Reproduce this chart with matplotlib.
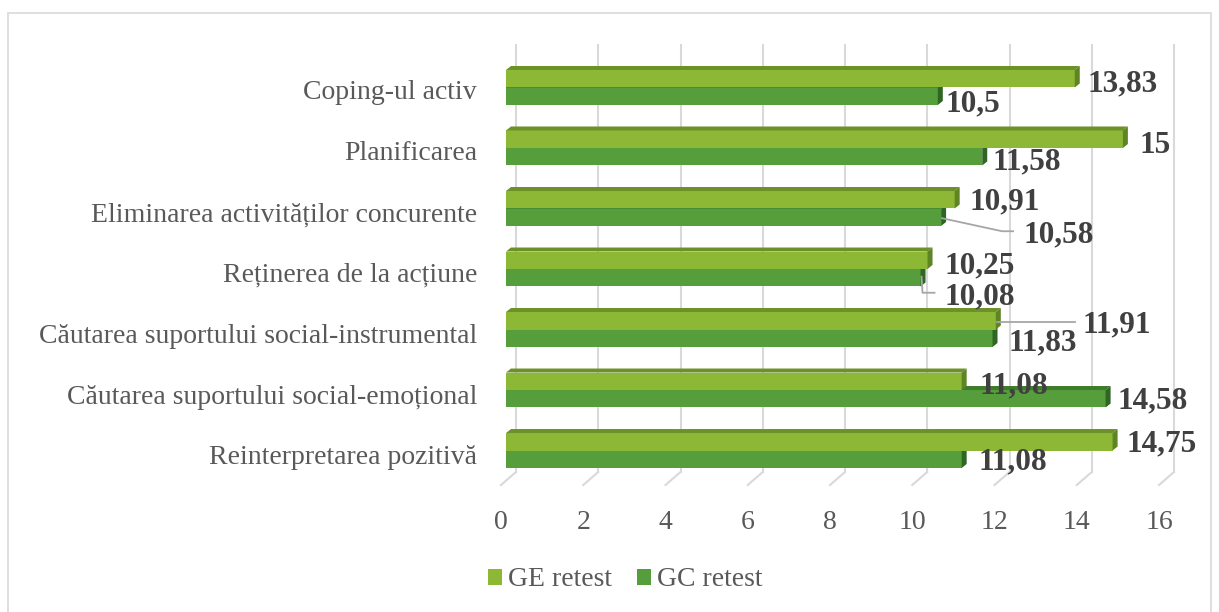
import matplotlib
matplotlib.use("Agg")
import matplotlib.pyplot as plt
from matplotlib.patches import Polygon, Patch, Rectangle
from matplotlib.lines import Line2D
from matplotlib.transforms import IdentityTransform

# ---- data -------------------------------------------------------------
categories = [
    "Coping-ul activ",
    "Planificarea",
    "Eliminarea activităților concurente",
    "Reținerea de la acțiune",
    "Căutarea suportului social-instrumental",
    "Căutarea suportului social-emoțional",
    "Reinterpretarea pozitivă",
]
ge_retest = [13.83, 15, 10.91, 10.25, 11.91, 11.08, 14.75]
gc_retest = [10.5, 11.58, 10.58, 10.08, 11.83, 14.58, 11.08]
series_names = ["GE retest", "GC retest"]
x_ticks = [0, 2, 4, 6, 8, 10, 12, 14, 16]

# ---- styling ----------------------------------------------------------
W, H, DPI = 1219, 612, 100
FONT = "Liberation Serif"
GE_FACE, GE_TOP, GE_SIDE = "#8CB835", "#6C9128", "#5F8423"
GC_FACE, GC_TOP, GC_SIDE = "#559E3B", "#3E7B2B", "#2F6624"
GRID = "#D9D9D9"
TEXT = "#595959"
VALUE_TEXT = "#404040"
BAR_H = 0.289
DEPTH = (5, 4)          # bar extrusion in pixels (right, up)
WALL_SHIFT = 10         # back-wall gridlines sit behind the bars
FLOOR = (15, 13)        # floor gridline run toward the viewer

# label placement: (right of bar end, below bar centre) in pixels
ge_label_pos = [(13, 2), (17, 3), (15, -1), (17, 3), (87, 1), (18, 2), (14, -1)]
gc_label_pos = [(8, 5), (10, 2), (82, 15), (24, 16), (16, 2), (12, -1), (17, 0)]
# leader lines for labels pulled away from their bars
leaders = {
    ("gc", 2): [(1, 1), (61, 14), (72, 14)],
    ("gc", 3): [(1, -1), (2, 15), (14, 15)],
    ("ge", 4): [(1, 1), (79, 1)],
}

fig = plt.figure(figsize=(W / DPI, H / DPI), dpi=DPI)
fig.patch.set_facecolor("white")

ax_left, ax_right = 506, 1164
ax_top, ax_bot = 45, 472
ax = fig.add_axes([ax_left / W, (H - ax_bot) / H,
                   (ax_right - ax_left) / W, (ax_bot - ax_top) / H])
XLIM = (0, 16)
YLIM = (6.355, -0.702)
ax.set_xlim(*XLIM)
ax.set_ylim(*YLIM)
ax.axis("off")

ident = IdentityTransform()

# back wall gridlines and floor lines
_, y_wall_bot = ax.transAxes.transform((0, 0))
_, y_wall_top = ax.transAxes.transform((0, 1))
for v in x_ticks:
    xd, _ = ax.transData.transform((v, 0))
    xb = xd + WALL_SHIFT
    ax.add_line(Line2D([xb, xb], [y_wall_bot, y_wall_top], color=GRID, lw=1.5,
                       transform=ident, clip_on=False, zorder=0.5))
    ax.add_line(Line2D([xb, xb - FLOOR[0]], [y_wall_bot, y_wall_bot - FLOOR[1]],
                       color=GRID, lw=1.5, transform=ident, clip_on=False, zorder=0.5))
    ax.annotate(str(v), xy=(v, 0), xycoords=("data", "axes fraction"),
                xytext=(WALL_SHIFT - FLOOR[0], -57), textcoords="offset pixels",
                ha="center", va="baseline", fontsize=20, family=FONT, color=TEXT)


def bar3d(val, yc, face, top, side, z):
    ax.barh(yc, val, height=BAR_H, color=face, linewidth=0, zorder=z)
    x0, yt = ax.transData.transform((0, yc - BAR_H / 2))
    x1, yb = ax.transData.transform((val, yc + BAR_H / 2))
    dx, dy = DEPTH
    ax.add_patch(Polygon([(x0, yt), (x1, yt), (x1 + dx, yt + dy), (x0 + dx, yt + dy)],
                         closed=True, fc=top, ec="none", transform=ident,
                         clip_on=False, zorder=z + 0.1))
    ax.add_patch(Polygon([(x1, yt), (x1 + dx, yt + dy), (x1 + dx, yb + dy), (x1, yb)],
                         closed=True, fc=side, ec="none", transform=ident,
                         clip_on=False, zorder=z + 0.1))


def fmt(v):
    return f"{v:g}".replace(".", ",")


def value_label(key, i, val, yc, pos):
    dx, dd = pos
    ax.annotate(fmt(val), xy=(val, yc), xycoords="data",
                xytext=(dx, -(dd + 10.5)), textcoords="offset pixels",
                ha="left", va="baseline", fontsize=22.5, fontweight="bold",
                family=FONT, color=VALUE_TEXT, zorder=10)
    if (key, i) in leaders:
        bx, by = ax.transData.transform((val, yc))
        pts = leaders[(key, i)]
        ax.add_line(Line2D([bx + p[0] for p in pts], [by - p[1] for p in pts],
                           color="#A6A6A6", lw=1.3, transform=ident,
                           clip_on=False, zorder=9))


for i, cat in enumerate(categories):
    y_ge = i - BAR_H / 2
    y_gc = i + BAR_H / 2
    bar3d(gc_retest[i], y_gc, GC_FACE, GC_TOP, GC_SIDE, 2)
    bar3d(ge_retest[i], y_ge, GE_FACE, GE_TOP, GE_SIDE, 3)
    value_label("ge", i, ge_retest[i], y_ge, ge_label_pos[i])
    value_label("gc", i, gc_retest[i], y_gc, gc_label_pos[i])
    ax.annotate(cat, xy=(0, i), xycoords="data", xytext=(-29, -12 - 0.3 * i),
                textcoords="offset pixels", ha="right", va="baseline",
                fontsize=20, family=FONT, color=TEXT)

ax.set_xlim(*XLIM)
ax.set_ylim(*YLIM)

# legend
handles = [Patch(facecolor=GE_FACE, edgecolor="none", label=series_names[0]),
           Patch(facecolor=GC_FACE, edgecolor="none", label=series_names[1])]
leg = fig.legend(handles=handles, loc="center", ncol=2,
                 bbox_to_anchor=(625 / W, 1 - 580 / H), bbox_transform=fig.transFigure,
                 frameon=False, prop={"family": FONT, "size": 20},
                 handlelength=0.5, handleheight=0.5, handletextpad=0.22,
                 columnspacing=0.9, borderpad=0)
for t in leg.get_texts():
    t.set_color(TEXT)

# chart frame
fig.add_artist(Rectangle((8 / W, -0.01), (1211 - 8) / W, (H - 13) / H + 0.01,
                         transform=fig.transFigure, fill=False,
                         ec=GRID, lw=1.2))

fig.savefig("out.png", dpi=DPI)
